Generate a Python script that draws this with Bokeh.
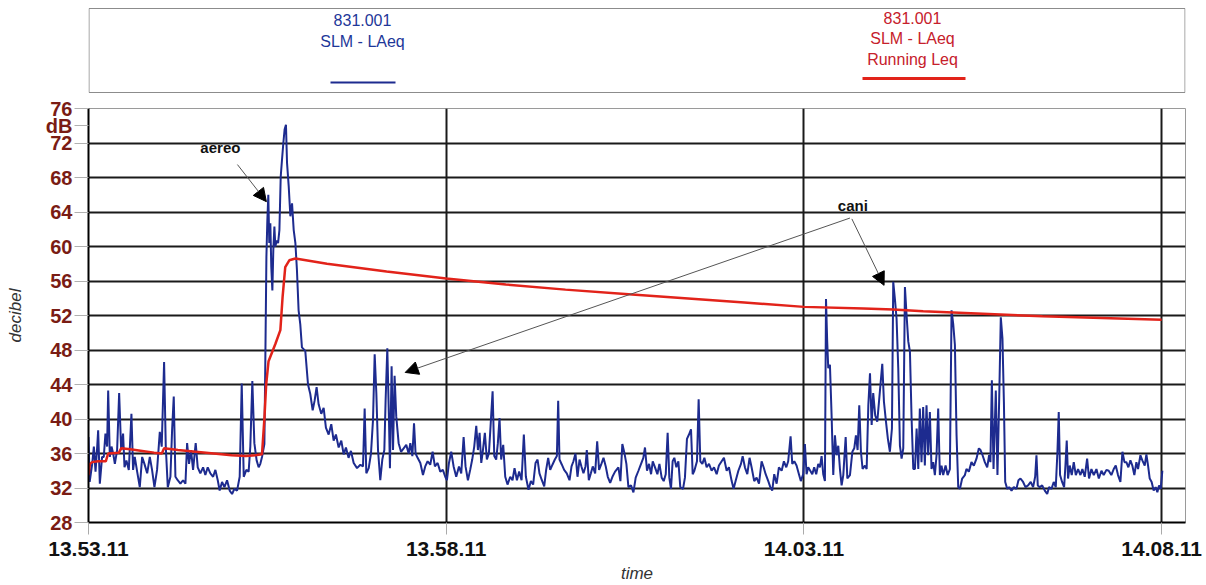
from bokeh.plotting import figure
from bokeh.models import FixedTicker, Label, Arrow, NormalHead, Range1d
from bokeh.layouts import column
from bokeh.core.properties import value
from bokeh.embed import file_html
from bokeh.resources import INLINE

# ---------------- data (seconds after 13.53.11, dB) ----------------
x_tick_values = [0, 300, 600, 900]
x_tick_labels = ["13.53.11", "13.58.11", "14.03.11", "14.08.11"]
y_ticks = [28, 32, 36, 40, 44, 48, 52, 56, 60, 64, 68, 72, 76]
unit_tick = 74
unit_label = "dB"

legend_blue_text = ["831.001", "SLM - LAeq"]
legend_red_text = ["831.001", "SLM - LAeq", "Running Leq"]

laeq_t = [
    0, 1, 3.1, 4.5, 5.9, 7.3, 8.1, 9.5, 11.4, 12.8, 14.2, 15.6, 16.5, 17.9, 19.3, 20.7, 22.1, 24.0, 25.7, 27.4,
    29.0, 30.2, 31.8, 33.8, 36.0, 37.4, 38.8, 40.8, 43.0, 45.0, 46.9, 49.2, 51.4, 53.3, 55.3, 57.5, 59.8, 61.4,
    63.4, 64.8, 66.5, 68.7, 70.1, 71.5, 72.9, 74.8, 77.1, 79.3, 81.3, 82.7, 84.3, 86.0, 87.7, 89.9, 91.6, 93.8,
    96.1, 98.0, 100.0, 102.2, 104.5, 106.4, 108.4, 110.0, 112.0, 114.0, 116.2, 118.4, 120.4, 122.3, 124.6,
    126.8, 128.5, 130.2, 132.4, 134.3, 135.7, 137.4, 139.1, 141.0, 142.7, 144.1, 145.5,
    147.5, 148.3, 149.2, 150.0, 150.8, 151.6, 152.5, 153.3, 154.2, 155.0, 155.9, 156.7, 157.8, 159.0, 160.1,
    161.2, 162.3, 163.4, 164.5, 165.6, 166.5, 167.9, 169.3, 170.7, 172.1, 173.5, 174.8, 176.2, 177.6, 179.0,
    181.8, 184.1, 186.0, 188.0, 189.6, 191.3, 193.0, 195.2, 197.2, 199.1, 201.4, 203.6, 205.6, 207.5, 209.8,
    212.0, 214.0, 215.9, 218.1, 220.1,
    222.4, 225.2, 228.0, 230.2, 231.6, 233.0, 235.0, 236.9, 238.6, 240.0, 241.4, 242.8, 244.7, 246.4, 248.1,
    249.2, 250.6, 252.0, 252.8, 254.2, 255.4, 256.7, 258.1, 260.1, 262.1, 264.3, 266.5, 268.5, 269.9, 271.6,
    273.0, 274.3, 276.0, 278.3, 280.5, 282.4, 284.4, 286.6, 288.6, 290.5, 292.8, 295.0, 297.2, 299.2, 300.6,
    302.3, 304.2, 306.2, 308.4, 310.7, 312.6, 314.6, 316.2, 318.2, 320.1, 321.8, 323.5, 325.2, 326.6, 328.0,
    329.4, 330.8, 332.4, 334.1, 335.8, 337.2, 338.9, 340.3, 341.9, 343.3, 344.7, 346.1, 347.8, 349.5, 351.4,
    353.7, 355.6, 357.3, 359.3, 361.2, 363.2, 365.1, 366.8, 369.0, 371.0, 372.9, 374.9, 376.6, 378.2, 380.2,
    382.2, 383.8, 385.5, 387.2, 389.1, 391.1, 392.8, 393.9, 395.0, 397.0, 398.9, 401.1, 403.4, 405.1, 406.7,
    408.4, 410.1, 411.8, 413.4, 415.1, 416.8, 417.9, 419.6, 421.3, 422.9, 424.9, 426.6, 428.2, 429.9, 431.9,
    433.8, 435.5, 437.5, 439.4, 441.6,
    444.4, 446.1, 447.7, 449.4, 451.1, 452.8, 455.0, 457.0, 458.9, 461.2, 463.4, 465.3, 466.7, 468.4, 470.1,
    471.8, 473.2, 475.1, 477.1, 478.8, 480.7, 482.4, 484.1, 485.7, 487.1, 488.5, 489.9, 491.3, 493.0, 494.7,
    496.3, 498.6, 500.2, 501.9, 503.6, 505.3, 506.7, 508.1, 510.3, 511.7, 513.1, 514.8, 516.5, 518.4, 520.4,
    522.6, 524.6, 526.8, 528.7, 531.0, 532.9, 535.2, 537.1, 539.4, 541.0, 542.7, 545.0, 547.2, 548.6, 550.5,
    552.5, 554.4, 556.1, 558.3, 560.3, 562.3, 564.5, 566.2, 567.9, 570.1, 571.8, 573.4, 575.1, 577.1, 579.0,
    581.3, 583.2, 585.2, 586.8, 588.8, 590.2, 591.9, 593.8, 595.8, 597.4, 599.4, 600.8, 602.2, 603.6, 605.3,
    607.0, 608.6, 610.3, 612.0, 613.4, 614.8, 616.2, 617.6,
    618.5, 619.5, 620.4, 621.8, 623.2, 624.6, 626.0, 627.4, 628.8, 630.2, 631.6, 633.0, 635.0, 636.4, 638.6,
    640.6, 642.2, 643.6, 645.0, 646.4, 647.8, 649.2, 651.2, 652.6, 654.0, 655.4, 656.8, 658.1, 659.8, 661.5,
    663.7, 665.7, 667.1, 668.8, 670.4, 672.1, 673.8, 674.9, 676.3, 677.7, 679.1, 680.5, 681.9, 683.3, 684.7,
    686.1, 687.5, 688.9, 690.3, 691.7, 693.1, 694.5, 695.9, 697.2, 698.6, 700.0, 701.4, 702.8, 704.2, 705.6,
    707.0, 708.4, 709.8, 711.2, 712.6, 714.0, 715.4, 716.8, 718.8, 720.5, 722.4, 723.8, 725.2, 726.6, 728.0,
    729.4, 730.8, 732.7, 735.0, 736.3, 738.3, 740.5, 742.5, 744.7, 746.7, 748.1, 749.8, 751.7, 753.7, 755.3,
    756.4, 757.6, 759.0, 760.9, 762.3, 763.7, 765.1, 766.5, 767.7, 768.8, 770.5, 772.1, 774.1, 776.0, 778.2,
    779.9, 781.6, 783.8, 785.8, 788.0, 790.2, 792.2, 793.9, 795.0, 796.1, 797.8, 799.8, 802.0, 804.0, 805.6,
    807.6, 809.5, 811.2, 812.6, 813.7, 814.8, 816.5, 818.2, 819.3, 820.4, 821.5, 822.9, 824.6, 826.3, 828.0,
    829.9, 831.9, 833.5, 835.5, 837.5, 839.1, 841.1, 843.1, 845.3, 847.3, 849.5, 851.4, 853.7, 855.6, 857.8,
    859.8, 861.5, 863.4, 865.4, 867.1, 868.8, 870.4, 872.1, 873.8, 875.4, 877.1, 878.8, 880.2, 882.2, 883.8,
    885.8, 887.2, 888.6, 890.0, 891.6, 893.3, 895.0, 896.4, 897.8, 899.2, 900.6,
]
laeq_db = [
    37.9, 32.7, 34.8, 36.8, 33.9, 36.8, 38.7, 32.5, 35.6, 35.6, 38.3, 36.8, 43.3, 35.6, 36.8, 36.0, 34.8, 36.4, 43.0, 36.4,
    38.3, 34.4, 35.2, 34.1, 40.6, 34.1, 35.6, 33.9, 32.1, 35.6, 34.8, 33.7, 35.6, 34.1, 32.1, 34.1, 38.5, 36.8,
    46.6, 36.8, 32.1, 33.3, 38.7, 42.6, 33.3, 32.9, 32.5, 32.9, 32.5, 37.2, 34.8, 36.4, 34.1, 37.2, 34.4, 33.7,
    34.4, 33.5, 34.4, 33.7, 33.3, 34.1, 32.9, 31.7, 32.7, 32.1, 32.9, 31.7, 31.3, 31.9, 31.7,
    33.3, 44.1, 33.3, 34.1, 33.9, 36.8, 44.4, 37.2, 35.2, 34.4, 34.8, 35.6,
    37.1, 46.8, 58.8, 63.1, 66.0, 60.4, 62.7, 57.6, 54.9, 59.6, 62.3, 60.0, 60.7, 60.4, 61.9,
    68.1, 70.1, 72.0, 73.6, 74.1, 69.7, 67.0, 63.5, 65.0, 61.9, 60.4, 57.3, 52.6, 51.0, 48.3,
    47.9, 44.0, 42.9, 41.0, 42.1, 43.7, 41.7, 40.6, 41.3, 39.0, 38.2, 39.4, 37.5, 38.2, 36.7,
    37.5, 35.9, 36.7, 35.5, 36.3,
    34.9, 34.3, 34.7, 34.5, 41.2, 33.7, 34.3, 36.0, 39.9, 47.5, 43.0, 36.4, 32.9, 35.3, 36.4,
    42.3, 48.2, 39.9, 34.3, 46.1, 36.4, 45.0, 40.3, 37.2, 36.2, 36.6, 37.0, 36.0, 37.2, 35.7,
    39.5, 36.0, 35.5, 34.9, 33.5, 34.5, 35.1, 34.7, 36.2, 34.5, 34.9, 33.9, 34.1, 33.3, 32.9,
    34.9, 36.2, 34.5, 33.3, 34.5, 33.7, 37.9, 34.5, 32.9, 34.1, 35.3, 36.8, 39.2, 36.4, 38.4,
    34.9, 36.4, 38.4, 35.3, 36.0, 39.2, 43.2, 35.7, 35.3, 37.2, 40.1, 35.3, 37.0, 33.3, 32.4,
    33.3, 32.9, 34.3, 32.9, 33.9, 32.9, 38.2, 33.3, 31.8, 32.8, 32.4, 34.9, 35.3, 33.7, 32.9,
    32.2, 34.1, 35.5, 34.1, 34.7, 35.3, 35.7, 42.1, 35.3, 34.7, 34.1, 33.7, 32.9, 34.5, 35.1,
    36.0, 33.3, 35.3, 34.5, 33.7, 34.5, 36.4, 32.9, 33.7, 34.5, 33.7, 37.4, 34.1, 34.7, 35.5,
    34.5, 33.3, 32.6, 33.3, 33.9,
    34.4, 32.8, 37.1, 36.1, 34.8, 32.1, 32.3, 31.5, 33.2, 34.0, 34.8, 35.5, 36.7, 34.0, 34.8,
    33.6, 35.1, 34.4, 33.6, 34.8, 33.2, 32.8, 33.6, 38.4, 33.2, 31.9, 35.1, 35.5, 34.4, 35.1,
    32.1, 31.9, 33.2, 37.7, 38.2, 38.8, 33.6, 34.0, 35.1, 42.3, 35.1, 34.8, 35.5, 34.4, 34.8,
    34.0, 34.4, 33.6, 34.6, 35.1, 35.5, 34.0, 34.4, 32.8, 31.9, 32.8, 34.0, 34.8, 35.7, 34.4,
    33.6, 35.5, 34.4, 32.8, 33.2, 32.5, 35.1, 34.4, 33.6, 32.8, 32.1, 31.7, 33.6, 32.5, 34.4,
    34.0, 35.1, 34.4, 35.1, 38.0, 34.8, 35.1, 34.6, 33.6, 32.8, 33.6, 37.1, 33.6, 34.4, 34.0,
    33.6, 34.4, 33.6, 34.8, 34.4, 35.7, 33.6, 32.8,
    53.9, 49.0, 45.9, 46.3, 40.4, 33.5, 38.1, 35.8, 36.9, 34.2, 32.3, 33.5, 37.9, 33.1, 33.5,
    36.2, 36.6, 38.1, 36.4, 41.6, 36.2, 34.2, 34.6, 34.2, 41.6, 45.3, 39.3, 43.0, 40.4, 39.7,
    43.2, 46.4, 42.0, 39.7, 37.7, 36.2, 38.9, 55.9, 53.9, 51.6, 45.9, 36.9, 35.4, 36.6, 55.3,
    52.0, 49.0, 47.8, 40.0, 34.2, 34.2, 38.9, 34.2, 41.2, 35.0, 41.4, 34.6, 41.6, 35.8, 40.8,
    34.2, 35.0, 33.5, 35.8, 41.2, 33.5, 34.6, 33.5, 34.6, 33.5, 34.2, 52.6, 51.0, 48.6, 38.1,
    32.1, 31.9, 33.1, 33.5, 34.2, 33.9, 35.0, 34.6, 35.4, 36.6, 36.4, 35.8, 35.0, 34.4, 35.8,
    35.0, 44.5, 34.2, 43.3, 33.5, 42.0, 51.8, 49.3, 42.0, 32.7, 31.9, 32.1, 31.7, 32.1, 31.9,
    32.9, 33.1, 32.7, 32.1, 32.3, 32.7, 32.1, 33.3, 35.8, 32.3, 32.1, 32.3, 31.7, 31.3, 32.1,
    31.9, 32.7, 32.1, 36.2, 40.8, 33.5, 32.7, 32.1, 34.6, 37.5, 33.1, 34.6, 33.5, 35.0, 33.5,
    34.2, 33.5, 34.2, 33.3, 35.4, 33.1, 34.2, 33.5, 34.2, 33.1, 34.0, 33.5, 34.1, 34.0, 33.5,
    34.2, 34.6, 33.5, 32.7, 36.2, 35.0, 35.0, 34.4, 35.2, 34.6, 33.5, 35.0, 34.2, 35.8, 35.2,
    34.6, 35.9, 34.6, 33.1, 32.7, 31.7, 32.1, 31.5, 32.3, 31.9, 34.0,
]

running_t = [0, 1.2, 3, 8, 14.5, 16.5, 25.5, 27.4, 35, 45, 55, 61.5, 63.4, 75, 90, 105, 120, 132, 140, 145.5,
             147.5, 149, 151, 156.7, 160.9, 162.8, 165, 168.4, 173.5, 200, 250, 300, 350, 400, 450, 500, 550,
             600, 650, 675, 700, 750, 800, 850, 900]
running_db = [33.5, 34.8, 35.0, 35.1, 35.1, 36.0, 36.1, 36.6, 36.5, 36.3, 36.1, 36.0, 36.6, 36.4, 36.2, 36.0,
              35.8, 35.7, 35.8, 35.9, 40.0, 44.0, 46.7, 48.7, 50.3, 54.2, 57.6, 58.4, 58.6, 58.0, 57.1, 56.3,
              55.6, 55.0, 54.5, 54.0, 53.5, 53.0, 52.8, 52.7, 52.5, 52.2, 51.9, 51.7, 51.5]

BLUE = "#1d2b8f"
RED = "#e2231a"
MAROON = "#7a1c14"
FONT = "Liberation Sans"

# ---------------- legend strip (page pixels: x 88..1185, y 0..96) ----------------
lg = figure(width=1206, height=96, x_range=Range1d(88, 1185), y_range=Range1d(0, 96),
            output_backend="svg", toolbar_location=None, min_border=0,
            min_border_left=88, min_border_right=21,
            x_axis_type=None, y_axis_type=None)
lg.grid.visible = False
lg.outline_line_color = None
lg.quad(left=[88.5], right=[1184.5], bottom=[4], top=[88], fill_color=None,
        line_color="#8c8c8c", line_width=1)
lg.text(x=[362] * len(legend_blue_text), y=[77, 55], text=legend_blue_text,
        text_color="#1e3799", text_font=value(FONT), text_font_size="16px",
        text_align="center", text_baseline="middle")
lg.text(x=[912] * len(legend_red_text), y=[79, 58, 37], text=legend_red_text,
        text_color="#c6202b", text_font=value(FONT), text_font_size="16px",
        text_align="center", text_baseline="middle")
lg.line(x=[330, 395], y=[14, 14], line_color=BLUE, line_width=2)
lg.line(x=[862, 965], y=[18, 18], line_color=RED, line_width=3)

# ---------------- main chart ----------------
p = figure(width=1206, height=489, x_range=Range1d(0, 920), y_range=Range1d(28, 76),
           output_backend="svg", toolbar_location=None,
           min_border_left=88, min_border_right=21, min_border_top=12, min_border_bottom=63)
p.outline_line_color = "#9a9a9a"
p.outline_line_width = 1

p.ygrid.ticker = FixedTicker(ticks=y_ticks)
p.xgrid.ticker = FixedTicker(ticks=x_tick_values)
for g in (p.xgrid, p.ygrid):
    g.grid_line_color = "#1a1a1a"
    g.grid_line_width = 2
    g.grid_line_alpha = 1

p.yaxis.ticker = FixedTicker(ticks=y_ticks + [unit_tick])
p.yaxis.major_label_overrides = {unit_tick: unit_label}
p.yaxis.major_label_text_color = MAROON
p.yaxis.major_label_text_font = FONT
p.yaxis.major_label_text_font_style = "bold"
p.yaxis.major_label_text_font_size = "20px"
p.yaxis.major_tick_out = 14
p.yaxis.major_tick_in = 0
p.yaxis.major_tick_line_color = "#b0b0b0"
p.yaxis.minor_tick_line_color = None
p.yaxis.axis_line_color = "black"
p.yaxis.axis_line_width = 2
p.yaxis.major_label_standoff = 2
p.yaxis.axis_label = "decibel"
p.yaxis.axis_label_text_font = FONT
p.yaxis.axis_label_text_font_style = "italic"
p.yaxis.axis_label_text_font_size = "17px"
p.yaxis.axis_label_text_color = "#333333"
p.yaxis.axis_label_standoff = 18

p.xaxis.ticker = FixedTicker(ticks=x_tick_values)
p.xaxis.major_label_overrides = dict(zip(x_tick_values, x_tick_labels))
p.xaxis.major_label_text_color = "#111111"
p.xaxis.major_label_text_font = FONT
p.xaxis.major_label_text_font_style = "bold"
p.xaxis.major_label_text_font_size = "21px"
p.xaxis.major_tick_out = 12
p.xaxis.major_tick_in = 0
p.xaxis.major_tick_line_color = "#aaaaaa"
p.xaxis.minor_tick_line_color = None
p.xaxis.axis_line_color = "black"
p.xaxis.axis_line_width = 2
p.xaxis.major_label_standoff = 7
p.xaxis.axis_label = "time"
p.xaxis.axis_label_text_font = FONT
p.xaxis.axis_label_text_font_style = "italic"
p.xaxis.axis_label_text_font_size = "17px"
p.xaxis.axis_label_text_color = "#333333"
p.xaxis.axis_label_standoff = 5

p.line(laeq_t, laeq_db, line_color=BLUE, line_width=2)
p.line(running_t, running_db, line_color=RED, line_width=2.5)

# annotations
p.add_layout(Label(x=110.6, y=71.5, text="aereo", text_align="center", text_baseline="middle",
                   text_color="#111111", text_font=FONT, text_font_style="bold", text_font_size="15px"))
p.add_layout(Label(x=641, y=64.7, text="cani", text_align="center", text_baseline="middle",
                   text_color="#111111", text_font=FONT, text_font_style="bold", text_font_size="15px"))
for xs, ys, xe, ye in [(124.9, 69.5, 149.2, 65.2), (638.6, 63.3, 265.6, 45.4), (640.2, 63.2, 667.2, 55.5)]:
    p.add_layout(Arrow(end=NormalHead(size=13, fill_color="black", line_color="black"),
                       x_start=xs, y_start=ys, x_end=xe, y_end=ye,
                       line_color="#555555", line_width=1))

layout = column(lg, p)
open("out.html", "w").write(file_html(layout, INLINE))
